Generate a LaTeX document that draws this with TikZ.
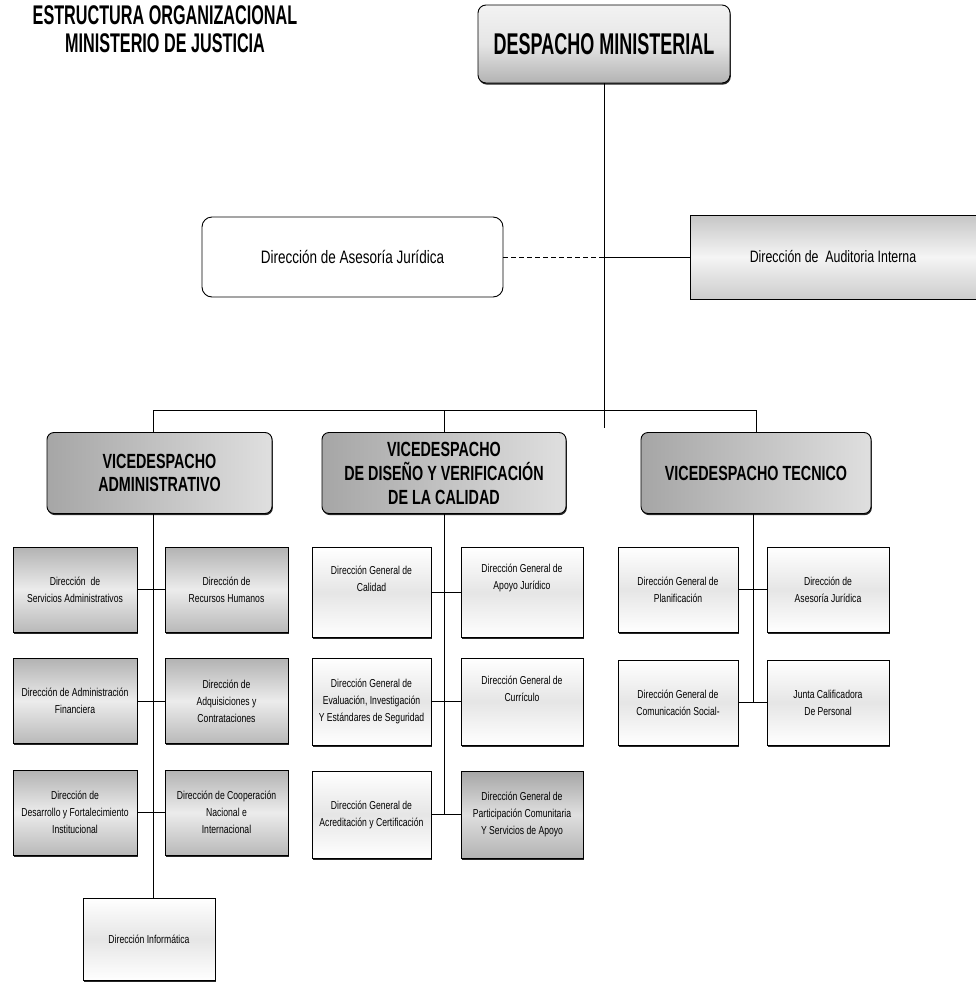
\documentclass[tikz,border=0pt]{standalone}
\usepackage{fontspec}
\newfontfamily\narr[FakeStretch=0.75]{Liberation Sans}
\newfontfamily\narb[FakeStretch=0.70]{Liberation Sans}
\newfontfamily\narc[FakeStretch=0.60]{Liberation Sans}
\usetikzlibrary{shadows}
\begin{document}
\begin{tikzpicture}[x=1pt,y=1pt,
  conn/.style={line width=0.8pt, draw=black},
  shad/.style={drop shadow={shadow xshift=0.8pt, shadow yshift=-1.6pt, fill=black, opacity=0.85}},
  box/.style={shad, draw=black, line width=0.9pt, inner sep=2pt, align=center,
    font=\narr\fontsize{11.5}{17}\selectfont},
  dark/.style={box, top color=gray!60, bottom color=gray!55, middle color=gray!15},
  light/.style={box, top color=white, bottom color=white, middle color=gray!20},
  vice/.style={shad, draw=black, line width=0.9pt, rounded corners=7pt, align=center,
    inner sep=1pt, font=\narb\bfseries\fontsize{20.5}{23}\selectfont,
    left color=gray!70, right color=gray!25,
    minimum height=81pt},
  ttl/.style={align=center, font=\narc\bfseries\fontsize{27}{28}\selectfont}]
\useasboundingbox (0,0) rectangle (976,-982);

% title
\node[ttl] (title) at (165,-29) {ESTRUCTURA ORGANIZACIONAL\\MINISTERIO DE JUSTICIA};

% top
\node[shad, draw=black, line width=0.9pt, rounded corners=8pt, minimum width=252pt, minimum height=78pt,
  top color=gray!10, bottom color=gray!60, middle color=gray!20,
  font=\narc\bfseries\fontsize{30}{32}\selectfont] (dm) at (604,-44) {DESPACHO MINISTERIAL};

\node[draw=black, line width=0.9pt, rounded corners=10pt, fill=white, minimum width=301pt, minimum height=80pt,
  font=\narr\fontsize{18}{20}\selectfont] (ases) at (352.5,-257) {Dirección de Asesoría Jurídica};

\node[draw=black, line width=0.9pt, minimum width=286pt, minimum height=84pt,
  top color=gray!45, bottom color=gray!40, middle color=gray!8,
  font=\narr\fontsize{16.5}{20}\selectfont] (aud) at (833,-257) {Dirección de\ \ Auditoria Interna};

\coordinate (mainEnd) at (604,-428);
\coordinate (busL) at (153,-410);
\coordinate (busM) at (444,-410);
\coordinate (busR) at (756,-410);

% vicedespachos
\node[vice, minimum width=225pt] (va) at (159.5,-473) {VICEDESPACHO\\ADMINISTRATIVO};
\node[vice, minimum width=244pt, font=\narb\bfseries\fontsize{20.5}{24}\selectfont] (vb) at (444,-473) {VICEDESPACHO\\DE DISEÑO Y VERIFICACIÓN\\DE LA CALIDAD};
\node[vice, minimum width=230pt] (vc) at (756,-473) {VICEDESPACHO TECNICO};

% column A
\node[dark, minimum width=124pt, minimum height=85pt] (a1) at (75,-589.5) {Dirección\ \ de\\Servicios Administrativos};
\node[dark, minimum width=123pt, minimum height=85pt] (a2) at (226.5,-589.5) {Dirección de\\Recursos Humanos};
\node[dark, minimum width=124pt, minimum height=85pt] (a3) at (75,-701) {Dirección de Administración\\Financiera};
\node[dark, minimum width=123pt, minimum height=85pt] (a4) at (226.5,-701) {Dirección de\\Adquisiciones y\\Contrataciones};
\node[dark, minimum width=124pt, minimum height=85pt] (a5) at (75,-812.5) {Dirección de\\Desarrollo y Fortalecimiento\\Institucional};
\node[dark, minimum width=123pt, minimum height=85pt] (a6) at (226.5,-812.5) {Dirección de Cooperación\\Nacional e\\Internacional};
\node[light, minimum width=132pt, minimum height=82pt] (inf) at (149,-939) {Dirección Informática};

% column B
\node[light, minimum width=119pt, minimum height=90pt] (b1) at (371.5,-592.5) {Dirección General de\\Calidad\\[10pt]};
\node[light, minimum width=122pt, minimum height=90pt] (b2) at (522,-592.5) {Dirección General de\\Apoyo Jurídico\\[14pt]};
\node[light, minimum width=119pt, minimum height=87pt] (b3) at (371.5,-701.5) {Dirección General de\\Evaluación, Investigación\\Y Estándares de Seguridad};
\node[light, minimum width=122pt, minimum height=87pt] (b4) at (522,-701.5) {Dirección General de\\Currículo\\[8pt]};
\node[light, minimum width=119pt, minimum height=87pt] (b5) at (371.5,-814.5) {Dirección General de\\Acreditación y Certificación};
\node[dark, minimum width=122pt, minimum height=87pt, top color=gray!70, bottom color=gray!60, middle color=gray!25] (b6) at (522,-814.5) {Dirección General de\\Participación Comunitaria\\Y Servicios de Apoyo};

% column C
\node[light, minimum width=120pt, minimum height=85pt] (c1) at (678,-589.5) {Dirección General de\\Planificación};
\node[light, minimum width=122pt, minimum height=85pt] (c2) at (828,-589.5) {Dirección de\\Asesoría Jurídica};
\node[light, minimum width=120pt, minimum height=85pt] (c3) at (678,-702.5) {Dirección General de\\Comunicación Social-};
\node[light, minimum width=122pt, minimum height=85pt] (c4) at (828,-702.5) {Junta Calificadora\\De Personal};

\coordinate (colC) at (753,-520);

% connectors
\draw[conn] (dm.south) -- (mainEnd);
\draw[conn, dash pattern=on 5pt off 3pt] (ases.east) -- (ases.east -| mainEnd);
\draw[conn] (ases.east -| mainEnd) -- (aud.west);
\draw[conn] (busL) -- (busR);
\draw[conn] (busL) -- (va.north -| busL);
\draw[conn] (busM) -- (vb.north);
\draw[conn] (busR) -- (vc.north);

\draw[conn] (va.south -| busL) -- (inf.north -| busL);
\draw[conn] (a1.east) -- (a2.west);
\draw[conn] (a3.east) -- (a4.west);
\draw[conn] (a5.east) -- (a6.west);

\draw[conn] (vb.south) -- (vb.south |- b5.east);
\draw[conn] (b1.east) -- (b2.west);
\draw[conn] (b3.east) -- (b4.west);
\draw[conn] (b5.east) -- (b6.west);

\draw[conn] (vc.south -| colC) -- (c3.east -| colC);
\draw[conn] (c1.east) -- (c2.west);
\draw[conn] (c3.east) -- (c4.west);
\end{tikzpicture}
\end{document}
